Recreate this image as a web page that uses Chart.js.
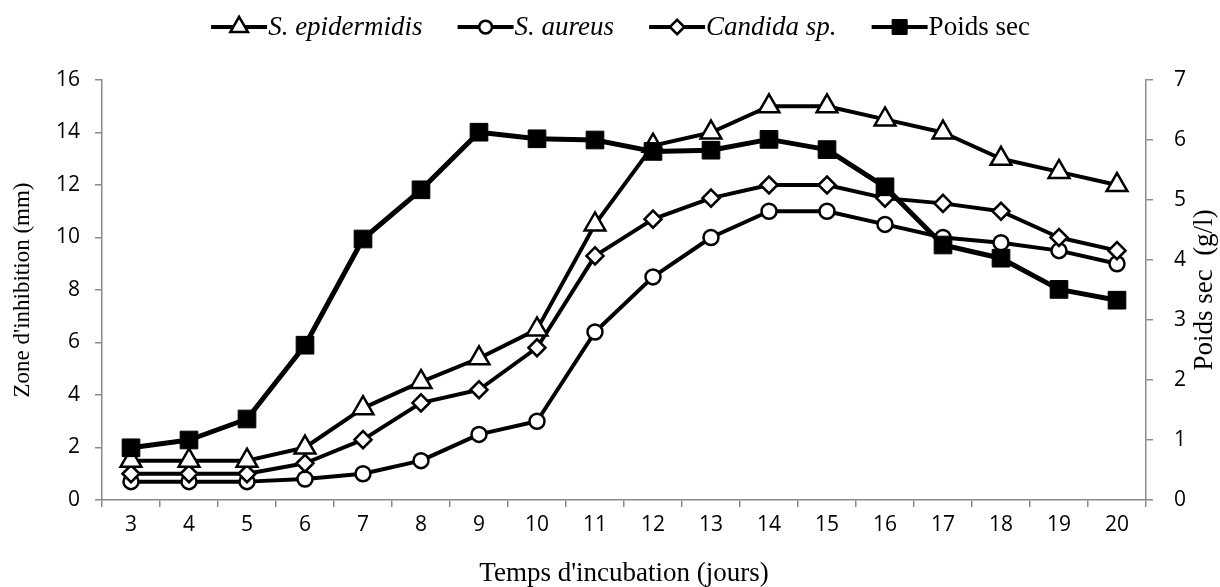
<!DOCTYPE html>
<html>
<head>
<meta charset="utf-8">
<script src="https://cdn.jsdelivr.net/npm/chart.js@4.4.1/dist/chart.umd.min.js"></script>
<style>
  html, body { margin: 0; padding: 0; background: #ffffff; }
  #wrap { width: 1220px; height: 587px; position: relative; }
</style>
</head>
<body>
<div id="wrap"><canvas id="c" width="1220" height="587"></canvas></div>
<script>
// Jours d'incubation (axe des abscisses)
const jours = ['3','4','5','6','7','8','9','10','11','12','13','14','15','16','17','18','19','20'];

// Zone d'inhibition (mm) — axe de gauche
const epidermidis = [1.5, 1.5, 1.5, 2.0, 3.5, 4.5, 5.4, 6.5, 10.5, 13.5, 14.0, 15.0, 15.0, 14.5, 14.0, 13.0, 12.5, 12.0];
const aureus      = [0.7, 0.7, 0.7, 0.8, 1.0, 1.5, 2.5, 3.0, 6.4, 8.5, 10.0, 11.0, 11.0, 10.5, 10.0, 9.8, 9.5, 9.0];
const candida     = [1.0, 1.0, 1.0, 1.4, 2.3, 3.7, 4.2, 5.8, 9.3, 10.7, 11.5, 12.0, 12.0, 11.5, 11.3, 11.0, 10.0, 9.5];

// Poids sec (g/l) — axe de droite
const poidsSec    = [0.87, 1.0, 1.35, 2.58, 4.35, 5.17, 6.13, 6.02, 6.0, 5.81, 5.83, 6.01, 5.84, 5.22, 4.25, 4.03, 3.51, 3.33];

// Graduations des deux axes verticaux
const zoneTicks  = [0, 2, 4, 6, 8, 10, 12, 14, 16];
const poidsTicks = [0, 1, 2, 3, 4, 5, 6, 7];

const AXIS_GREY = '#8a8a8a';
const SERIF = '"Liberation Serif", "Times New Roman", serif';
const SANS = '"Open Sans", "Liberation Sans", sans-serif';

// Marqueurs dessinés à la main pour la légende
function drawMarker(ctx, style, x, y, r, fill, lw) {
  ctx.save();
  ctx.beginPath();
  if (style === 'triangle') {
    for (let i = 0; i < 3; i++) {
      const a = i * 2 * Math.PI / 3;
      const px = x + Math.sin(a) * r, py = y - Math.cos(a) * r;
      if (i === 0) ctx.moveTo(px, py); else ctx.lineTo(px, py);
    }
    ctx.closePath();
  } else if (style === 'circle') {
    ctx.arc(x, y, r, 0, Math.PI * 2);
  } else if (style === 'rectRot') {
    ctx.moveTo(x - r, y); ctx.lineTo(x, y - r); ctx.lineTo(x + r, y); ctx.lineTo(x, y + r);
    ctx.closePath();
  } else {
    const s = Math.SQRT1_2 * r;
    ctx.rect(x - s, y - s, 2 * s, 2 * s);
  }
  ctx.fillStyle = fill;
  ctx.fill();
  ctx.lineWidth = lw;
  ctx.strokeStyle = '#000';
  ctx.stroke();
  ctx.restore();
}

const legendeSeries = {
  id: 'legendeSeries',
  afterDraw(chart) {
    const ctx = chart.ctx;
    const items = chart.data.datasets.map(ds => ({
      text: ds.label,
      italic: ds.legendItalic,
      style: ds.pointStyle,
      radius: ds.pointRadius,
      fill: ds.pointBackgroundColor,
      lw: ds.pointBorderWidth
    }));
    const lineLen = 56, gap = 36, fontSize = 27, y = 27;
    ctx.save();
    items.forEach(it => {
      ctx.font = (it.italic ? 'italic ' : '') + fontSize + 'px ' + SERIF;
      it.w = ctx.measureText(it.text).width;
    });
    const total = items.reduce((s, it) => s + lineLen + it.w, 0) + gap * (items.length - 1);
    let x = 620 - total / 2;
    items.forEach(it => {
      ctx.strokeStyle = '#000';
      ctx.lineWidth = 4;
      ctx.beginPath();
      ctx.moveTo(x, y); ctx.lineTo(x + lineLen, y);
      ctx.stroke();
      drawMarker(ctx, it.style, x + lineLen / 2, y, it.radius * 0.85, it.fill, it.lw);
      ctx.font = (it.italic ? 'italic ' : '') + fontSize + 'px ' + SERIF;
      ctx.fillStyle = '#000';
      ctx.textAlign = 'left';
      ctx.textBaseline = 'middle';
      ctx.fillText(it.text, x + lineLen + 1, y + 1);
      x += lineLen + it.w + gap;
    });
    ctx.restore();
  }
};

// Titre de l'axe de droite, lu de bas en haut
const titreDroite = {
  id: 'titreDroite',
  afterDraw(chart) {
    const ctx = chart.ctx;
    const area = chart.chartArea;
    ctx.save();
    ctx.translate(1205, (area.top + area.bottom) / 2);
    ctx.rotate(-Math.PI / 2);
    ctx.font = '27px ' + SERIF;
    ctx.fillStyle = '#000';
    ctx.textAlign = 'center';
    ctx.textBaseline = 'middle';
    ctx.fillText('Poids sec  (g/l)', 0, 0);
    ctx.restore();
  }
};

const gridOpts = {
  display: true,
  drawOnChartArea: false,
  drawTicks: true,
  tickLength: 7,
  color: AXIS_GREY,
  lineWidth: 1.5
};
const borderOpts = { display: true, color: AXIS_GREY, width: 1.5 };

new Chart(document.getElementById('c'), {
  type: 'line',
  data: {
    labels: jours,
    datasets: [
      {
        label: 'S. epidermidis', legendItalic: true,
        data: epidermidis, yAxisID: 'y', order: 2,
        borderColor: '#000', borderWidth: 4, borderJoinStyle: 'round',
        pointStyle: 'triangle', pointRadius: 12, pointBorderWidth: 2.5,
        pointBackgroundColor: '#fff', pointBorderColor: '#000'
      },
      {
        label: 'S. aureus', legendItalic: true,
        data: aureus, yAxisID: 'y', order: 4,
        borderColor: '#000', borderWidth: 4, borderJoinStyle: 'round',
        pointStyle: 'circle', pointRadius: 7.5, pointBorderWidth: 2.5,
        pointBackgroundColor: '#fff', pointBorderColor: '#000'
      },
      {
        label: 'Candida sp.', legendItalic: true,
        data: candida, yAxisID: 'y', order: 3,
        borderColor: '#000', borderWidth: 4, borderJoinStyle: 'round',
        pointStyle: 'rectRot', pointRadius: 8.5, pointBorderWidth: 2.5,
        pointBackgroundColor: '#fff', pointBorderColor: '#000'
      },
      {
        label: 'Poids sec', legendItalic: false,
        data: poidsSec, yAxisID: 'y2', order: 1,
        borderColor: '#000', borderWidth: 5, borderJoinStyle: 'round',
        pointStyle: 'rect', pointRadius: 12.5, pointBorderWidth: 1,
        pointBackgroundColor: '#000', pointBorderColor: '#000'
      }
    ]
  },
  options: {
    responsive: false,
    devicePixelRatio: 1,
    animation: false,
    layout: { padding: { top: 80, left: 0, right: 0, bottom: 0 } },
    plugins: { legend: { display: false }, tooltip: { enabled: false } },
    scales: {
      x: {
        type: 'category',
        offset: true,
        grid: Object.assign({}, gridOpts, { offset: true }),
        border: borderOpts,
        ticks: { font: { family: SANS, size: 21 }, color: '#000', padding: 5, maxRotation: 0, autoSkip: false },
        title: {
          display: true, text: "Temps d'incubation (jours)", color: '#000',
          font: { family: SERIF, size: 27, lineHeight: 1 }, padding: { top: 0, bottom: 0 }
        },
        afterFit(s) { s.height = 87; }
      },
      y: {
        position: 'left',
        min: 0, max: 16,
        afterBuildTicks(s) { s.ticks = zoneTicks.map(v => ({ value: v })); },
        grid: gridOpts,
        border: borderOpts,
        ticks: { font: { family: SANS, size: 21 }, color: '#000', padding: 15 },
        title: {
          display: true, text: "Zone d'inhibition (mm)", color: '#000',
          font: { family: SERIF, size: 23, lineHeight: 1 }, padding: { top: 11, bottom: 0 }
        },
        afterFit(s) { s.width = 102; }
      },
      y2: {
        position: 'right',
        min: 0, max: 7,
        afterBuildTicks(s) { s.ticks = poidsTicks.map(v => ({ value: v })); },
        grid: gridOpts,
        border: borderOpts,
        ticks: { font: { family: SANS, size: 21 }, color: '#000', padding: 21 },
        afterFit(s) { s.width = 74; }
      }
    }
  },
  plugins: [legendeSeries, titreDroite]
});
</script>
</body>
</html>
